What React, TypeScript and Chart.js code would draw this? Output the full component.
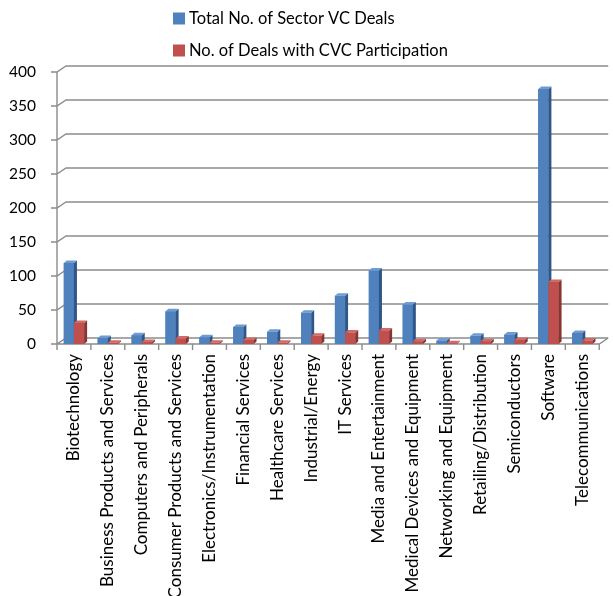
import { useEffect, useRef } from "react";
import { Chart, registerables } from "chart.js";

Chart.register(...registerables);

const categories = [
  "Biotechnology",
  "Business Products and Services",
  "Computers and Peripherals",
  "Consumer Products and Services",
  "Electronics/Instrumentation",
  "Financial Services",
  "Healthcare Services",
  "Industrial/Energy",
  "IT Services",
  "Media and Entertainment",
  "Medical Devices and Equipment",
  "Networking and Equipment",
  "Retailing/Distribution",
  "Semiconductors",
  "Software",
  "Telecommunications",
];

const totalDeals = [119, 9, 13, 48, 10, 25, 18, 46, 71, 108, 58, 5, 12, 14, 375, 16];
const cvcDeals = [31, 2, 3, 8, 2, 6, 2, 12, 17, 20, 4, 1, 4, 6, 91, 5];

const yTicks = [0, 50, 100, 150, 200, 250, 300, 350, 400];

const seriesNames = ["Total No. of Sector VC Deals", "No. of Deals with CVC Participation"];

// front / side / top shades for each series
const shades = [
  { front: "#4F81BD", side: "#2F5688", top: "#6E9BD3" },
  { front: "#C0504D", side: "#8A3432", top: "#D06A67" },
];

const FONT = "Lato, 'Open Sans', sans-serif";
const GRID = "#8c8c8c";

// offset of the back wall relative to the front plane
const WALL = { dx: 9, dy: -6 };
// depth of each column
const BAR = { dx: 3, dy: -2.5 };

const frame3d = {
  id: "frame3d",
  beforeDatasetsDraw(chart: any) {
    const { ctx, chartArea, scales } = chart;
    const { left, right, top, bottom } = chartArea;
    const y = scales.y;
    ctx.save();
    ctx.strokeStyle = GRID;
    ctx.lineWidth = 1.4;
    ctx.beginPath();
    for (const v of yTicks) {
      const py = y.getPixelForValue(v);
      ctx.moveTo(left - 6, py);
      ctx.lineTo(left, py);
      ctx.lineTo(left + WALL.dx, py + WALL.dy);
      ctx.lineTo(right + WALL.dx, py + WALL.dy);
    }
    ctx.moveTo(left, top);
    ctx.lineTo(left, bottom);
    ctx.moveTo(left, bottom);
    ctx.lineTo(right, bottom);
    ctx.lineTo(right + WALL.dx, bottom + WALL.dy);
    const n = categories.length;
    for (let i = 0; i <= n; i++) {
      const px = left + ((right - left) * i) / n;
      ctx.moveTo(px, bottom);
      ctx.lineTo(px, bottom + 6);
    }
    ctx.stroke();
    ctx.restore();
  },
  afterDatasetsDraw(chart: any) {
    const { ctx } = chart;
    ctx.save();
    const n = categories.length;
    for (let i = 0; i < n; i++) {
      for (let d = 0; d < chart.data.datasets.length; d++) {
        const el = chart.getDatasetMeta(d).data[i];
        if (!el) continue;
        const { x, y, base, width } = el.getProps(["x", "y", "base", "width"], true);
        const l = x - width / 2;
        const r = x + width / 2;
        const s = shades[d];
        // front face
        ctx.fillStyle = s.front;
        ctx.fillRect(l, y, width, base - y);
        // right side face
        ctx.fillStyle = s.side;
        ctx.beginPath();
        ctx.moveTo(r, y);
        ctx.lineTo(r + BAR.dx, y + BAR.dy);
        ctx.lineTo(r + BAR.dx, base + BAR.dy);
        ctx.lineTo(r, base);
        ctx.closePath();
        ctx.fill();
        // top face
        ctx.fillStyle = s.top;
        ctx.beginPath();
        ctx.moveTo(l, y);
        ctx.lineTo(l + BAR.dx, y + BAR.dy);
        ctx.lineTo(r + BAR.dx, y + BAR.dy);
        ctx.lineTo(r, y);
        ctx.closePath();
        ctx.fill();
      }
    }
    ctx.restore();
  },
  afterDraw(chart: any) {
    const { ctx } = chart;
    ctx.save();
    ctx.font = `16.5px ${FONT}`;
    ctx.textBaseline = "middle";
    ctx.textAlign = "left";
    chart.data.datasets.forEach((ds: any, d: number) => {
      const cy = 18.5 + d * 32;
      ctx.fillStyle = shades[d].front;
      ctx.fillRect(173, cy - 6, 12, 12);
      ctx.fillStyle = "#000";
      ctx.fillText(ds.label, 189, cy);
    });
    ctx.restore();
  },
};

export default function App() {
  const canvasRef = useRef<HTMLCanvasElement | null>(null);

  useEffect(() => {
    if (!canvasRef.current) return;
    const chart = new Chart(canvasRef.current, {
      type: "bar",
      data: {
        labels: categories,
        datasets: [
          { label: seriesNames[0], data: totalDeals, backgroundColor: shades[0].front },
          { label: seriesNames[1], data: cvcDeals, backgroundColor: shades[1].front },
        ],
      },
      options: {
        animation: false,
        responsive: false,
        events: [],
        layout: { padding: { top: 72, right: 10, left: 0, bottom: 0 } },
        plugins: {
          legend: { display: false },
          tooltip: { enabled: false },
        },
        datasets: {
          bar: { categoryPercentage: 0.6, barPercentage: 1.0 },
        },
        scales: {
          x: {
            grid: { display: false, drawTicks: false },
            border: { display: false },
            ticks: {
              autoSkip: false,
              minRotation: 90,
              maxRotation: 90,
              padding: 10,
              color: "#000",
              font: { family: FONT, size: 17 },
            },
            afterFit(scale: any) {
              scale.height = 252;
            },
          },
          y: {
            min: 0,
            max: 400,
            grid: { display: false, drawTicks: false },
            border: { display: false },
            ticks: {
              stepSize: 50,
              padding: 21,
              color: "#000",
              font: { family: FONT, size: 15.5 },
            },
            afterFit(scale: any) {
              scale.width = 57;
            },
          },
        },
      },
      plugins: [frame3d],
    });
    return () => chart.destroy();
  }, []);

  return (
    <div style={{ position: "absolute", left: 0, top: 0, width: 613, height: 596, background: "#fff" }}>
      <canvas ref={canvasRef} width={613} height={596} />
    </div>
  );
}
